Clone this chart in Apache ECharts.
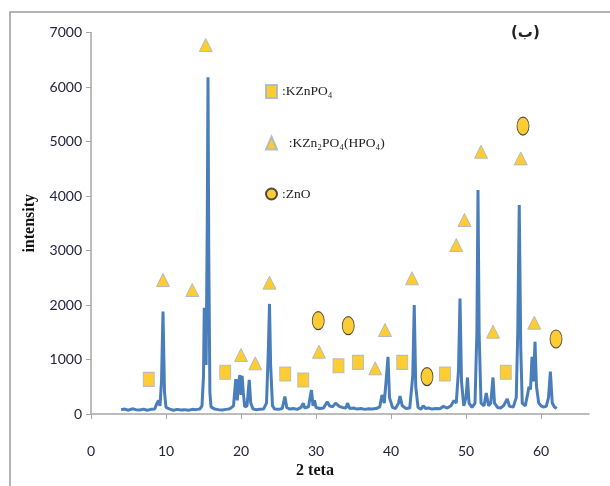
<!DOCTYPE html>
<html>
<head>
<meta charset="utf-8">
<script src="https://cdn.jsdelivr.net/npm/echarts@6/dist/echarts.min.js"></script>
<style>
  html, body { margin: 0; padding: 0; background: #fff; }
  #chart { width: 610px; height: 486px; }
</style>
</head>
<body>
<div id="chart"></div>
<script>
// XRD pattern (2 theta / intensity)
var twoTheta = [4.0, 4.5, 5.0, 5.5, 6.0, 6.5, 7.0, 7.5, 8.0, 8.5, 8.8, 9.0, 9.2, 9.4, 9.6, 9.8, 10.0, 10.5, 11.0, 11.5,
  12.0, 12.5, 13.0, 13.5, 14.0, 14.5, 14.8, 15.0, 15.1, 15.2, 15.35, 15.5, 15.6, 15.7, 15.85, 16.0, 16.5, 17.0, 17.5, 18.0,
  18.5, 19.0, 19.3, 19.5, 19.7, 19.85, 20.0, 20.15, 20.3, 20.5, 20.8, 21.1, 21.3, 21.6, 22.0, 22.5, 23.0, 23.4, 23.65, 23.8,
  23.95, 24.2, 24.5, 25.0, 25.5, 25.85, 26.1, 26.5, 27.0, 27.5, 28.0, 28.3, 28.5, 29.0, 29.2, 29.4, 29.6, 29.8, 30.0, 30.5,
  31.0, 31.5, 31.8, 32.2, 32.6, 32.8, 33.1, 33.5, 34.0, 34.2, 34.5, 35.0, 35.5, 36.0, 36.5, 37.0, 37.5, 38.0, 38.5, 38.8,
  39.1, 39.4, 39.6, 39.8, 40.2, 40.6, 41.0, 41.2, 41.5, 42.0, 42.5, 42.9, 43.1, 43.3, 43.6, 44.0, 44.3, 44.6, 45.0, 45.5,
  46.0, 46.5, 47.0, 47.5, 48.0, 48.4, 48.7, 49.0, 49.2, 49.4, 49.7, 50.0, 50.2, 50.4, 50.8, 51.2, 51.45, 51.6, 51.75, 52.0,
  52.4, 52.7, 53.0, 53.3, 53.6, 53.8, 54.2, 54.6, 55.0, 55.5, 55.8, 56.3, 56.7, 56.9, 57.1, 57.3, 57.5, 57.9, 58.2, 58.4,
  58.6, 58.8, 59.0, 59.2, 59.4, 59.7, 60.0, 60.3, 60.7, 61.0, 61.25, 61.5, 61.8, 62.1];
var intensity = [80, 90, 70, 95, 80, 75, 90, 70, 85, 90, 200, 250, 150, 600, 1880, 400, 120, 90, 70, 85,
  75, 80, 70, 85, 80, 90, 150, 700, 1950, 1800, 900, 3500, 6180, 3000, 400, 130, 90, 80, 75, 85,
  95, 150, 640, 250, 600, 715, 350, 700, 400, 130, 150, 625, 200, 90, 80, 85, 90, 200, 1200, 2020,
  900, 150, 90, 85, 100, 320, 120, 90, 100, 85, 120, 200, 110, 130, 300, 440, 150, 250, 120, 100,
  110, 225, 150, 130, 200, 230, 140, 120, 110, 200, 100, 110, 90, 100, 85, 95, 90, 100, 130, 350,
  200, 700, 1050, 300, 120, 100, 200, 330, 150, 100, 110, 700, 2000, 500, 120, 90, 150, 100, 110, 90,
  100, 95, 140, 110, 150, 250, 200, 800, 2120, 600, 150, 300, 670, 200, 120, 200, 1500, 4110, 1500, 200,
  150, 385, 150, 200, 670, 200, 120, 110, 150, 275, 140, 130, 300, 1500, 3835, 1200, 200, 150, 350, 500,
  450, 1050, 600, 1327, 500, 200, 150, 130, 140, 300, 776, 200, 130, 100];

// phase markers
var phaseNames = ['KZnPO₄', 'KZn₂PO₄(HPO₄)', 'ZnO'];
var squareX = [7.7, 17.9, 25.9, 28.3, 33.0, 35.6, 41.5, 47.2, 55.3];
var squareY = [636, 765, 734, 624, 886, 948, 948, 734, 765];
var triangleX = [9.6, 13.5, 15.3, 20.0, 21.9, 23.8, 30.4, 37.9, 39.2, 42.8, 48.7, 49.8, 52.0, 53.6, 57.3, 59.1];
var triangleY = [2459, 2275, 6770, 1083, 930, 2410, 1143, 838, 1541, 2490, 3100, 3560, 4813, 1510, 4690, 1675];
var circleX = [30.3, 34.3, 44.8, 57.6, 62.0];
var circleY = [1712, 1620, 685, 5284, 1376];

var xTicks = [0, 10, 20, 30, 40, 50, 60];

function pairs(xs, ys) {
  return xs.map(function (x, i) { return [x, ys[i]]; });
}

var chart = echarts.init(document.getElementById('chart'));
var labelColor = '#23233f';
var gold = '#ffc000';

chart.setOption({
  animation: false,
  graphic: [
    {
      type: 'polyline',
      shape: { points: [[10, 486], [10, 12], [610, 12]] },
      style: { stroke: '#9b9b9b', lineWidth: 1.5, fill: null }
    },
    {
      type: 'text',
      left: 511, top: 26,
      style: { text: '(ب)', font: 'bold 15px "DejaVu Sans"', fill: '#222' }
    }
  ],
  legend: {
    data: phaseNames,
    orient: 'vertical',
    left: 260,
    top: 79,
    itemWidth: 11,
    itemHeight: 13,
    itemGap: 36.5,
    textStyle: { fontFamily: 'Liberation Serif', fontSize: 13.5, color: '#222' },
    formatter: function (name) {
      return (name === phaseNames[1] ? '  :' : ':') + name;
    }
  },
  grid: { left: 91, right: 21, top: 32.5, bottom: 72 },
  xAxis: {
    type: 'value',
    min: 0,
    max: 66.4,
    interval: 10,
    name: '2 teta',
    nameLocation: 'middle',
    nameGap: 46,
    nameTextStyle: { fontFamily: 'Liberation Serif', fontWeight: 'bold', fontSize: 16, color: '#111', padding: [0, 50, 0, 0] },
    axisLine: { lineStyle: { color: '#a6a6a6', width: 1.5 } },
    axisTick: { customValues: xTicks, length: 5, lineStyle: { color: '#a6a6a6' } },
    axisLabel: { customValues: xTicks, margin: 30, fontFamily: 'Lato', fontSize: 14, color: labelColor },
    splitLine: { show: false }
  },
  yAxis: {
    type: 'value',
    min: 0,
    max: 7000,
    interval: 1000,
    name: 'intensity',
    nameLocation: 'middle',
    nameGap: 53,
    nameTextStyle: { fontFamily: 'Liberation Serif', fontWeight: 'bold', fontSize: 16, color: '#111' },
    axisLine: { show: true, lineStyle: { color: '#a6a6a6', width: 1.5 } },
    axisTick: { show: true, length: 5, lineStyle: { color: '#a6a6a6' } },
    axisLabel: {
      margin: 9, fontFamily: 'Lato', fontSize: 14, color: labelColor,
      formatter: function (v) { return String(v); }
    },
    splitLine: { show: false }
  },
  series: [
    {
      name: 'pattern',
      type: 'line',
      data: pairs(twoTheta, intensity),
      showSymbol: false,
      lineStyle: { color: '#4a7ebb', width: 3 },
      z: 2
    },
    {
      name: phaseNames[0],
      type: 'scatter',
      symbol: 'rect',
      symbolSize: [11, 14],
      data: pairs(squareX, squareY),
      itemStyle: { color: gold, borderColor: '#9fb3c8', borderWidth: 1 },
      z: 3
    },
    {
      name: phaseNames[1],
      type: 'scatter',
      symbol: 'triangle',
      symbolSize: [13, 13],
      data: pairs(triangleX, triangleY),
      itemStyle: { color: gold, borderColor: '#9fb3c8', borderWidth: 1 },
      z: 3
    },
    {
      name: phaseNames[2],
      type: 'scatter',
      symbol: 'circle',
      symbolSize: [12, 18],
      data: pairs(circleX, circleY),
      itemStyle: { color: gold, borderColor: '#222', borderWidth: 1 },
      z: 3
    }
  ]
});
</script>
</body>
</html>
